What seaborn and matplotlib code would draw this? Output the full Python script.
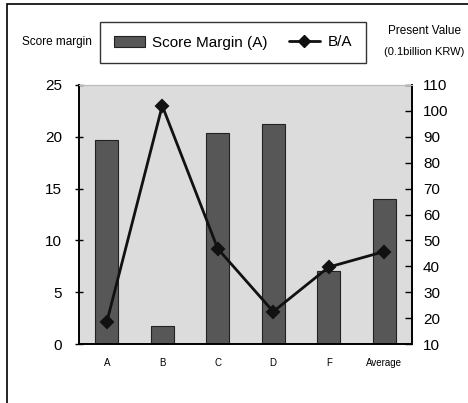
import numpy as np
import pandas as pd
import matplotlib
matplotlib.use('Agg')
import matplotlib.pyplot as plt
import seaborn as sns
from matplotlib.patches import Patch, Rectangle
from matplotlib.lines import Line2D

categories = ['A', 'B', 'C', 'D', 'F', 'Average']
score_margin = [19.7, 1.7, 20.4, 21.2, 7.0, 14.0]
b_over_a = [18.4, 102.0, 46.8, 22.5, 39.7, 45.7]

sns.set_style('white')
plt.rcParams['font.family'] = ['Liberation Sans', 'DejaVu Sans']
plt.rcParams['text.color'] = 'black'
plt.rcParams['xtick.color'] = 'black'
plt.rcParams['ytick.color'] = 'black'

df = pd.DataFrame({'cat': categories, 'margin': score_margin, 'ba': b_over_a})

fig = plt.figure(figsize=(4.68, 4.03), dpi=100)
ax = fig.add_axes([79 / 468, 1 - 344 / 403, 333 / 468, 259 / 403])
ax.set_facecolor('#dcdcdc')

sns.barplot(data=df, x='cat', y='margin', color='#575757', width=0.41,
            edgecolor='#222222', linewidth=0.8, saturation=1, ax=ax)
ax.set_ylim(0, 25)
ax.set_yticks([0, 5, 10, 15, 20, 25])
ax.set_xlabel('')
ax.set_ylabel('')

ax2 = ax.twinx()
sns.pointplot(data=df, x='cat', y='ba', color='#111111', markers='D',
              linewidth=2.0, markersize=6, ax=ax2)
ax2.set_ylim(10, 110)
ax2.set_yticks(range(10, 111, 10))
ax2.set_xlim(-0.5, 5.5)
ax2.set_ylabel('')
ax2.set_xlabel('')

for a in (ax, ax2):
    for s in a.spines.values():
        s.set_color('black')
        s.set_linewidth(1.2)
    a.spines['top'].set_color('#bbbbbb')
    a.spines['top'].set_linewidth(0.8)

ax.tick_params(axis='y', direction='inout', length=6, width=1, labelsize=11, pad=9, left=True)
ax.tick_params(axis='x', length=0, labelsize=7, pad=10)
ax2.tick_params(axis='y', direction='in', length=5, width=1, labelsize=11, pad=8, right=True)

fig.text(22 / 468, 1 - 42 / 403, 'Score margin', fontsize=8.5, va='center', ha='left')
fig.text(424 / 468, 1 - 31 / 403, 'Present Value', fontsize=8.5, va='center', ha='center')
fig.text(424 / 468, 1 - 52 / 403, '(0.1billion KRW)', fontsize=8, va='center', ha='center')

handles = [Patch(facecolor='#575757', edgecolor='#222222', linewidth=0.8),
           Line2D([], [], color='#111111', marker='D', markersize=6, linewidth=2.0)]
leg = fig.legend(handles, ['Score Margin (A)', 'B/A'], loc='center', ncol=2,
                 bbox_to_anchor=(233 / 468, 1 - 42.5 / 403), fontsize=11,
                 frameon=True, fancybox=False, edgecolor='black',
                 handlelength=2.0, handletextpad=0.5, columnspacing=1.4,
                 borderpad=0.9, borderaxespad=0)
leg.get_frame().set_linewidth(1.0)

fig.patches.append(Rectangle((7 / 468, -0.1), 1.2, 1 - 4 / 403 + 0.1,
                             transform=fig.transFigure, fill=False,
                             edgecolor='black', linewidth=1.2))

fig.savefig('out.png', dpi=100)
